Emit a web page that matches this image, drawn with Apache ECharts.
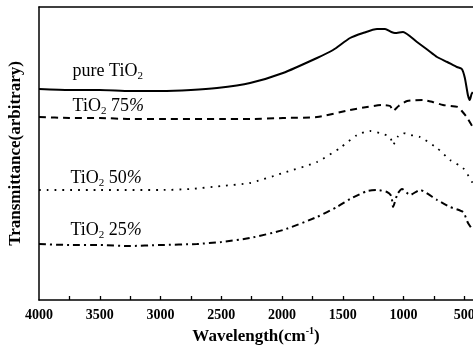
<!DOCTYPE html>
<html>
<head>
<meta charset="utf-8">
<script src="https://cdn.jsdelivr.net/npm/echarts@6/dist/echarts.min.js"></script>
<style>
html, body { margin: 0; padding: 0; background: #fff; }
#main { width: 473px; height: 349px; }
</style>
</head>
<body>
<div id="main"></div>
<script>
// [wavenumber (cm-1), transmittance (arbitrary units)]
var pureTiO2 = [
    [4000, 211], [3750, 210], [3500, 210], [3250, 209], [3000, 209], [2750, 210],
    [2535, 212], [2263, 217], [1992, 227], [1712, 242], [1580, 250], [1440, 262],
    [1333, 267], [1218, 271], [1152, 271], [1100, 268], [1070, 267], [1004, 268],
    [889, 258], [800, 250], [724, 243], [640, 238], [560, 233], [520, 231],
    [495, 222], [470, 205], [455, 200], [440, 206], [430, 208]
];
var tio2_75 = [
    [4000, 183], [3750, 182], [3500, 182], [3250, 181], [3000, 181], [2500, 181],
    [2263, 181], [1992, 182], [1712, 183], [1440, 190], [1300, 193], [1170, 195],
    [1110, 194], [1086, 189], [1040, 194], [970, 199], [840, 200], [760, 198],
    [675, 195], [550, 193], [520, 189], [480, 183], [440, 175], [430, 173]
];
var tio2_50 = [
    [4000, 110], [3500, 110], [3000, 110], [2750, 111], [2500, 114], [2263, 117],
    [1992, 127], [1712, 138], [1523, 152], [1383, 165], [1276, 169], [1170, 166],
    [1110, 163], [1086, 155], [1050, 163], [1004, 167], [940, 165], [865, 163],
    [724, 152], [617, 140], [510, 132], [436, 118], [430, 116]
];
var tio2_25 = [
    [4000, 56], [3750, 55], [3500, 55], [3260, 54], [3000, 55], [2700, 56],
    [2500, 58], [2263, 62], [1992, 70], [1712, 83], [1548, 93], [1440, 101],
    [1300, 109], [1218, 110], [1136, 108], [1100, 104], [1086, 93], [1050, 106],
    [1012, 111], [946, 105], [865, 110], [724, 100], [617, 93], [510, 88],
    [469, 77], [436, 71], [430, 70]
];
var tickLabels = [4000, 3500, 3000, 2500, 2000, 1500, 1000, 500];
var tickMarks = [3750, 3500, 3250, 3000, 2750, 2500, 2250, 2000, 1750, 1500, 1250, 1000, 750, 500];

var serif = '"Liberation Serif", "DejaVu Serif", serif';
var labelRich = {
    t: { fontFamily: serif, fontSize: 18, color: '#000', lineHeight: 21, verticalAlign: 'middle' },
    s: { fontFamily: serif, fontSize: 11, color: '#000', lineHeight: 11, verticalAlign: 'bottom' },
    p: { fontFamily: serif, fontSize: 18, color: '#000', fontStyle: 'italic', lineHeight: 21, verticalAlign: 'middle' }
};

function tag(text, coord) {
    return {
        symbol: 'circle',
        symbolSize: 1,
        itemStyle: { color: 'rgba(0,0,0,0)' },
        label: { show: true, position: 'right', distance: 0, formatter: text, rich: labelRich },
        data: [{ coord: coord }]
    };
}

var myChart = echarts.init(document.getElementById('main'));

var option = {
    animation: false,
    backgroundColor: '#fff',
    grid: { left: 39, right: 0, top: 7, bottom: 49, outerBoundsMode: 'none', containLabel: false },
    xAxis: [
        {
            type: 'value',
            inverse: true,
            min: 428,
            max: 4000,
            name: 'Wavelength(cm{sup|-1})',
            nameLocation: 'middle',
            nameGap: 24,
            nameTextStyle: {
                fontFamily: serif, fontSize: 17, fontWeight: 'bold', color: '#000', lineHeight: 19,
                rich: {
                    sup: { fontFamily: serif, fontSize: 10, fontWeight: 'bold', color: '#000', lineHeight: 10, verticalAlign: 'top' }
                }
            },
            axisLine: { lineStyle: { color: '#000', width: 1.5 } },
            axisTick: { inside: true, length: 4, customValues: tickMarks, lineStyle: { color: '#000', width: 1.3 } },
            splitLine: { show: false },
            axisLabel: {
                margin: 8,
                customValues: tickLabels,
                hideOverlap: false,
                formatter: function (v) { return String(v); },
                fontFamily: serif, fontSize: 14, fontWeight: 'bold', color: '#000'
            }
        },
        {
            type: 'value',
            position: 'top',
            inverse: true,
            min: 428,
            max: 4000,
            axisLine: { show: true, lineStyle: { color: '#000', width: 1.5 } },
            axisTick: { show: false },
            axisLabel: { show: false },
            splitLine: { show: false }
        }
    ],
    yAxis: {
        type: 'value',
        min: 0,
        max: 293,
        name: 'Transmittance(arbitrary)',
        nameLocation: 'middle',
        nameGap: 15,
        nameTextStyle: { fontFamily: serif, fontSize: 17, fontWeight: 'bold', color: '#000' },
        axisLine: { show: true, lineStyle: { color: '#000', width: 1.5 } },
        axisTick: { show: false },
        axisLabel: { show: false },
        splitLine: { show: false }
    },
    series: [
        {
            name: 'pure TiO2',
            type: 'line',
            data: pureTiO2,
            smooth: 0.2,
            showSymbol: false,
            lineStyle: { color: '#000', width: 2 },
            markPoint: tag('{t|pure TiO}{s|2}', [3728, 229])
        },
        {
            name: 'TiO2 75%',
            type: 'line',
            data: tio2_75,
            smooth: 0.2,
            showSymbol: false,
            lineStyle: { color: '#000', width: 2, type: [7, 5] },
            markPoint: tag('{t|TiO}{s|2}{t| 75}{p|%}', [3728, 194])
        },
        {
            name: 'TiO2 50%',
            type: 'line',
            data: tio2_50,
            smooth: 0.2,
            showSymbol: false,
            lineStyle: { color: '#000', width: 1.8, type: [1.8, 6] },
            markPoint: tag('{t|TiO}{s|2}{t| 50}{p|%}', [3745, 122])
        },
        {
            name: 'TiO2 25%',
            type: 'line',
            data: tio2_25,
            smooth: 0.2,
            showSymbol: false,
            lineStyle: { color: '#000', width: 2, type: [7, 4, 2, 4] },
            markPoint: tag('{t|TiO}{s|2}{t| 25}{p|%}', [3745, 70])
        }
    ]
};

myChart.setOption(option);
</script>
</body>
</html>
